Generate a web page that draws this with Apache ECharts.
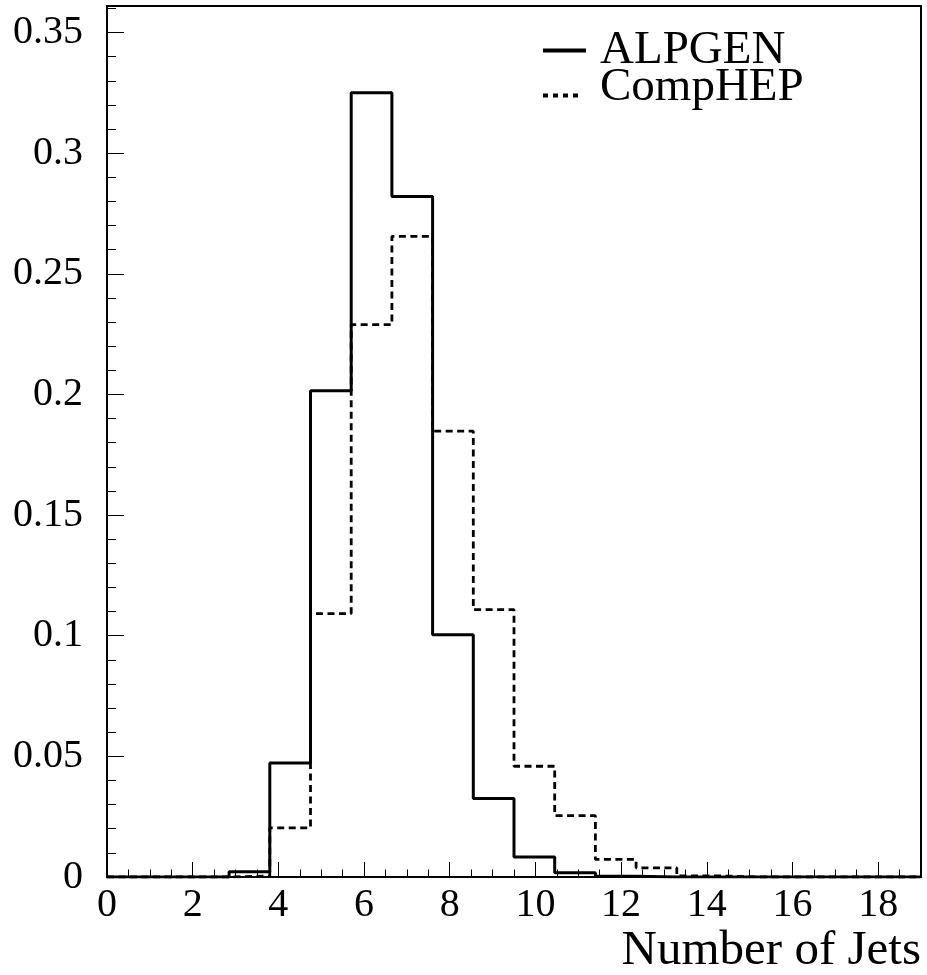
<!DOCTYPE html>
<html>
<head>
<meta charset="utf-8">
<script src="https://cdn.jsdelivr.net/npm/echarts@6/dist/echarts.min.js"></script>
<style>
html,body{margin:0;padding:0;background:#fff;}
#chart{width:927px;height:975px;}
</style>
</head>
<body>
<div id="chart"></div>
<script>
// Histogram binning (20 bins from 0 to 19)
const binLow = 0;
const binHigh = 19;
const nBins = 20;

// Bin contents (fraction of events), bins 0..19
const alpgen  = [0, 0, 0, 0.0022, 0.0472, 0.2015, 0.3250, 0.2820, 0.1004, 0.0325, 0.0083, 0.0018, 0.0003, 0, 0, 0, 0, 0, 0, 0];
const comphep = [0, 0, 0, 0.0004, 0.0204, 0.1092, 0.2289, 0.2655, 0.1848, 0.1108, 0.0459, 0.0254, 0.0073, 0.0038, 0.0005, 0, 0, 0, 0, 0];

const seriesNames = ['ALPGEN', 'CompHEP'];
const xAxisTitle = 'Number of Jets';

function stepPoints(vals) {
  const w = (binHigh - binLow) / nBins;
  const pts = vals.map((v, i) => [binLow + i * w, v]);
  pts.push([binHigh, vals[vals.length - 1]]);
  return pts;
}

const FONT = 'Liberation Serif';
const chart = echarts.init(document.getElementById('chart'), null, {renderer: 'canvas'});

const hiddenSymbol = {color: 'transparent', borderColor: 'transparent', borderWidth: 0, opacity: 0};

const option = {
  animation: false,
  backgroundColor: '#fff',
  title: {
    text: xAxisTitle, right: 6, top: 927, padding: 0,
    textStyle: {fontFamily: FONT, fontSize: 49, fontWeight: 'normal', color: '#000'}
  },
  grid: {left: 107, right: 6, top: 6, bottom: 98, containLabel: false, outerBoundsMode: 'none',
         show: true, borderColor: '#000', borderWidth: 2, backgroundColor: 'transparent'},
  legend: [
    {
      data: [seriesNames[0]], left: 541, top: 27, padding: 0, itemWidth: 43, itemHeight: 14,
      textStyle: {fontFamily: FONT, fontSize: 47, color: '#000', padding: [0, 0, 0, 9]},
      itemStyle: hiddenSymbol,
      lineStyle: {width: 4, type: 'solid', color: '#000'}
    },
    {
      data: [seriesNames[1]], left: 541, top: 64, padding: 0, itemWidth: 40, itemHeight: 14,
      formatter: '{t|{name}}',
      textStyle: {fontFamily: FONT, fontSize: 47, color: '#000',
        rich: {t: {fontFamily: FONT, fontSize: 47, color: '#000', padding: [0, 0, 16, 12]}}},
      itemStyle: hiddenSymbol,
      lineStyle: {width: 4, type: [5, 5], color: '#000'}
    }
  ],
  xAxis: [
    {
      type: 'value', min: binLow, max: binHigh, interval: 2, position: 'bottom',
      axisLine: {show: true, lineStyle: {color: '#000', width: 2}},
      axisTick: {show: true, inside: true, length: 15, lineStyle: {color: '#000', width: 1}},
      axisLabel: {show: true, margin: 8, fontFamily: FONT, fontSize: 40, color: '#000', showMaxLabel: false},
      splitLine: {show: false}
    },
    {
      type: 'value', min: binLow, max: binHigh, interval: 0.5, position: 'bottom',
      axisLine: {show: false},
      axisTick: {show: true, inside: true, length: 7.5, lineStyle: {color: '#000', width: 1}},
      axisLabel: {show: false},
      splitLine: {show: false}
    }
  ],
  yAxis: [
    {
      type: 'value', min: 0, max: 0.361, interval: 0.05, position: 'left',
      axisLine: {show: true, lineStyle: {color: '#000', width: 2}},
      axisTick: {show: true, inside: true, length: 17, lineStyle: {color: '#000', width: 1}},
      axisLabel: {show: true, margin: 24, fontFamily: FONT, fontSize: 40, color: '#000', showMaxLabel: false},
      splitLine: {show: false}
    },
    {
      type: 'value', min: 0, max: 0.361, interval: 0.01, position: 'left',
      axisLine: {show: false},
      axisTick: {show: true, inside: true, length: 9, lineStyle: {color: '#000', width: 1}},
      axisLabel: {show: false},
      splitLine: {show: false}
    }
  ],
  series: [
    {
      name: seriesNames[0], type: 'line', xAxisIndex: 0, yAxisIndex: 0,
      data: stepPoints(alpgen), step: 'end', symbol: 'none', showSymbol: false,
      lineStyle: {color: '#000', width: 3, type: 'solid'}, itemStyle: {color: '#000'}, z: 3
    },
    {
      name: seriesNames[1], type: 'line', xAxisIndex: 0, yAxisIndex: 0,
      data: stepPoints(comphep), step: 'end', symbol: 'none', showSymbol: false,
      lineStyle: {color: '#000', width: 2.8, type: [7, 4.5]}, itemStyle: {color: '#000'}, z: 2
    }
  ]
};
chart.setOption(option);
</script>
</body>
</html>
